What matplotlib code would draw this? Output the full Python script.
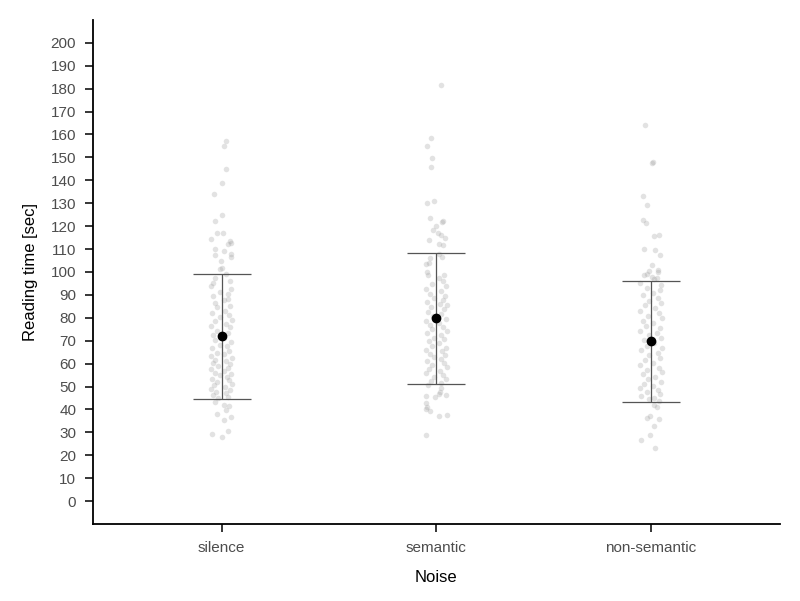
import matplotlib.pyplot as plt

plt.rcParams['font.family'] = ['Liberation Sans', 'DejaVu Sans']

conditions = ["silence", "semantic", "non-semantic"]
means = [71.9, 79.8, 69.7]
sds = [27.2, 28.6, 26.5]

# (reading time, horizontal jitter)
silence_pts = [
    (157.2, 0.02), (155.0, 0.01), (144.8, 0.02), (138.7, 0.0), (134.0, -0.035),
    (124.9, 0.003), (122.3, -0.03), (117.0, -0.02), (116.8, 0.004), (114.4, -0.05),
    (113.3, 0.04), (112.6, 0.045), (112.0, 0.03), (109.9, -0.03), (109.0, 0.01),
    (107.8, 0.045), (107.6, -0.03), (106.5, 0.043), (104.9, -0.005), (101.8, 0.0),
    (101.2, -0.01), (99.1, 0.02), (97.4, -0.03), (96.2, 0.04), (95.0, -0.04),
    (93.8, -0.05), (92.6, 0.045), (91.3, -0.01), (90.5, 0.03), (89.7, -0.04),
    (88.2, 0.03), (87.9, 0.01), (86.5, -0.03), (85.1, 0.04), (84.6, -0.02),
    (83.0, 0.015), (82.2, -0.045), (81.4, 0.035), (80.3, -0.01), (79.1, 0.05),
    (78.6, -0.03), (77.2, 0.02), (76.4, -0.05), (75.8, 0.04), (74.1, -0.02),
    (73.5, 0.03), (72.7, -0.04), (71.2, 0.01), (70.4, -0.03), (69.6, 0.045),
    (68.3, -0.01), (67.8, 0.025), (66.9, -0.045), (65.4, 0.035), (64.7, -0.02),
    (64.0, 0.01), (63.2, -0.05), (62.5, 0.05), (61.8, -0.03), (61.1, 0.02),
    (60.4, -0.04), (59.7, 0.04), (58.9, -0.015), (58.2, 0.03), (57.6, -0.05),
    (56.8, 0.01), (56.1, -0.03), (55.5, 0.045), (54.9, -0.01), (54.0, 0.025),
    (53.3, -0.045), (52.7, 0.035), (51.9, -0.02), (51.2, 0.05), (50.5, -0.035),
    (49.8, 0.015), (49.1, -0.05), (48.4, 0.04), (47.7, -0.025), (47.0, 0.02),
    (46.3, -0.04), (45.6, 0.03), (44.9, -0.015), (43.4, -0.03), (42.0, 0.01),
    (41.5, 0.035), (39.7, 0.022), (38.1, -0.02), (36.8, 0.042), (35.4, 0.01),
    (30.7, 0.03), (29.3, -0.045), (27.8, 0.0),
]

semantic_pts = [
    (181.7, 0.02), (158.6, -0.025), (155.0, -0.045), (149.7, -0.02), (145.9, -0.025),
    (131.0, -0.01), (130.0, -0.045), (123.7, -0.03), (122.3, 0.03), (122.0, 0.025),
    (120.1, 0.0), (118.3, -0.015), (117.2, 0.008), (116.2, 0.02), (115.0, 0.04),
    (113.8, -0.035), (112.2, 0.01), (111.8, 0.03), (107.9, 0.013), (106.4, 0.028),
    (106.0, -0.03), (103.8, -0.035), (103.5, -0.05), (100.1, -0.045), (98.8, 0.035),
    (98.7, -0.04), (97.2, 0.01), (96.1, 0.03), (94.8, -0.02), (93.9, 0.045),
    (92.5, -0.05), (91.7, 0.02), (90.4, -0.03), (89.6, 0.04), (88.8, -0.01),
    (87.9, 0.03), (87.1, -0.045), (86.2, 0.015), (85.4, 0.05), (84.5, -0.025),
    (83.7, 0.035), (82.6, -0.04), (81.8, 0.02), (80.9, -0.015), (79.3, 0.045),
    (78.5, -0.05), (77.6, 0.01), (76.8, -0.03), (75.9, 0.03), (75.0, -0.02),
    (74.2, 0.05), (73.3, -0.045), (72.5, 0.02), (71.4, -0.01), (70.6, 0.035),
    (69.7, -0.035), (68.9, 0.01), (67.8, -0.02), (67.0, 0.045), (66.1, -0.05),
    (65.3, 0.025), (64.4, -0.03), (63.6, 0.04), (62.7, -0.01), (61.9, 0.02),
    (61.0, -0.045), (60.2, 0.035), (59.3, -0.02), (58.5, 0.05), (57.6, -0.035),
    (56.8, 0.015), (55.9, -0.05), (55.1, 0.03), (54.2, -0.01), (53.4, 0.045),
    (52.5, -0.025), (51.7, 0.02), (50.8, -0.04), (49.2, 0.02), (47.7, 0.018),
    (46.6, 0.01), (46.3, 0.045), (45.9, -0.05), (45.3, -0.005), (42.9, -0.05),
    (41.2, -0.042), (40.0, -0.05), (39.3, -0.03), (37.7, 0.048), (37.0, 0.01),
    (29.0, -0.05),
]

nonsemantic_pts = [
    (164.3, -0.03), (147.9, 0.01), (147.5, 0.005), (133.0, -0.04), (129.0, -0.02),
    (122.6, -0.04), (121.3, -0.025), (116.0, 0.035), (115.7, 0.015), (110.0, -0.035),
    (109.7, 0.02), (107.6, 0.04), (102.9, 0.006), (100.9, 0.033), (100.3, -0.012),
    (99.8, 0.03), (99.2, -0.02), (98.7, -0.035), (98.0, 0.006), (97.3, 0.025),
    (96.8, 0.012), (95.1, -0.05), (94.2, 0.045), (93.0, -0.02), (92.1, 0.04),
    (90.9, 0.01), (89.8, -0.04), (88.6, 0.03), (87.5, -0.01), (86.3, 0.045),
    (85.4, -0.03), (84.2, 0.02), (83.1, -0.05), (82.0, 0.035), (80.9, -0.015),
    (79.8, 0.05), (78.6, -0.04), (77.7, 0.01), (76.5, -0.025), (75.6, 0.04),
    (74.4, -0.05), (73.5, 0.025), (72.3, -0.01), (71.4, 0.045), (70.2, -0.035),
    (68.8, 0.015), (67.9, -0.02), (66.7, 0.05), (65.8, -0.045), (64.6, 0.03),
    (63.7, -0.01), (62.5, 0.04), (61.6, -0.03), (60.4, 0.01), (59.5, -0.05),
    (58.3, 0.035), (57.4, -0.02), (56.2, 0.05), (55.3, -0.04), (54.1, 0.02),
    (53.2, -0.015), (52.0, 0.045), (51.1, -0.035), (50.3, 0.01), (49.4, -0.05),
    (48.6, 0.03), (47.7, -0.02), (46.9, 0.04), (46.0, -0.045), (45.2, 0.015),
    (44.5, -0.01), (43.8, 0.035), (41.9, 0.013), (41.2, 0.028), (37.2, -0.005),
    (36.1, -0.02), (35.8, 0.035), (33.0, 0.015), (29.0, -0.005), (26.8, -0.045),
    (23.0, 0.02),
]

all_pts = [silence_pts, semantic_pts, nonsemantic_pts]

fig = plt.figure(figsize=(8, 6.01), dpi=100)
ax = fig.add_axes([0.116, 0.128, 0.859, 0.839])

for i, pts in enumerate(all_pts):
    ys = [p[0] for p in pts]
    xs = [i + p[1] for p in pts]
    ax.scatter(xs, ys, s=16, color='#9a9a9a', alpha=0.28, linewidths=0, zorder=1)

ax.errorbar(range(len(conditions)), means, yerr=sds, fmt='none', ecolor='#555555',
            elinewidth=0.9, capsize=21, capthick=0.9, zorder=2)
ax.scatter(range(len(conditions)), means, s=36, color='black', zorder=3)

ax.set_xlim(-0.6, 2.6)
ax.set_ylim(-10, 210)
ax.set_yticks(range(0, 201, 10))
ax.set_xticks(range(len(conditions)))
ax.set_xticklabels(conditions)

for side in ['top', 'right']:
    ax.spines[side].set_visible(False)
for side in ['left', 'bottom']:
    ax.spines[side].set_linewidth(1.3)

ax.tick_params(axis='both', direction='out', length=6, width=1.1,
               labelsize=11, labelcolor='#4d4d4d', pad=6)
ax.set_xlabel('Noise', fontsize=12, labelpad=11)
ax.set_ylabel('Reading time [sec]', fontsize=12, labelpad=9)

fig.savefig('out.png', dpi=100)
